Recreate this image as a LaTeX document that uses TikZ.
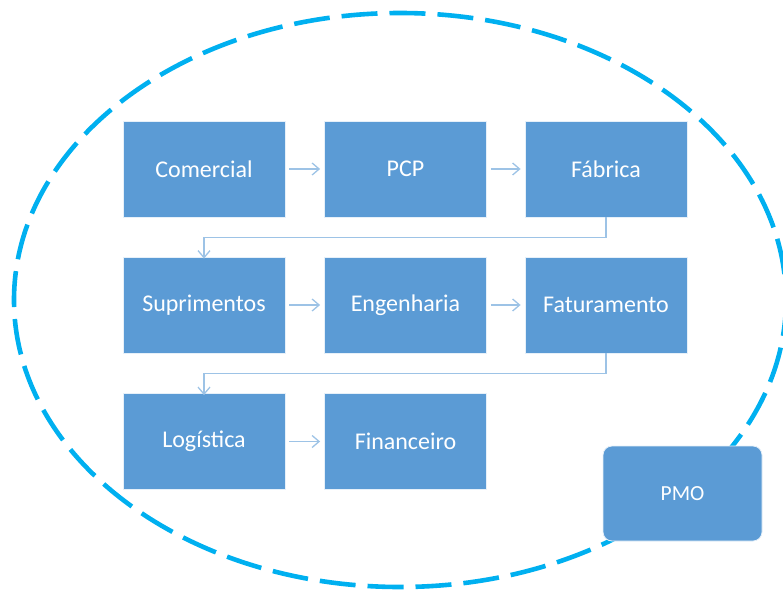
\documentclass[tikz,border=0pt]{standalone}
\usepackage{fontspec}
\setmainfont{Carlito}
\usetikzlibrary{arrows.meta}
\definecolor{boxblue}{HTML}{5B9BD5}
\definecolor{linkblue}{HTML}{9DC3E6}
\definecolor{ringcyan}{HTML}{00B0F0}
\tikzset{
  stage/.style={draw=white!85!boxblue, line width=0.8pt, fill=boxblue,
    minimum width=162pt, minimum height=96pt, inner sep=0pt,
    text=white, font=\fontsize{24}{28}\selectfont},
  office/.style={stage, rounded corners=9pt, minimum width=159pt, minimum height=95pt,
    font=\fontsize{21.5}{25}\selectfont},
  flow/.style={draw=linkblue, line width=1.3pt, -{Straight Barb[length=7pt,width=12pt,line width=1.3pt]}},
  ring/.style={draw=ringcyan, line width=4.6pt, dash pattern=on 36pt off 12pt}
}
\begin{document}
\begin{tikzpicture}[x=1pt,y=-1pt]
\useasboundingbox (0,0) rectangle (783,589);
% dashed boundary of the organisation
\draw[ring] (400,300) ellipse [x radius=386, y radius=287];
% process stages
\node[stage] (com) at (204,169) {Comercial};
\node[stage] (pcp) at (405.5,169) {PCP};
\node[stage] (fab) at (606,169) {Fábrica};
\node[stage] (sup) at (204,305) {Suprimentos};
\node[stage] (eng) at (405.5,305) {Engenharia};
\node[stage] (fat) at (606,305) {Faturamento};
\node[stage] (log) at (204,441.5) {Logística};
\node[stage] (fin) at (405.5,441.5) {Financeiro};
\node[office] (pmo) at (682.5,493.5) {PMO};
% horizontal hand-offs
\draw[flow] ([xshift=4pt]com.east) -- ([xshift=-4pt]pcp.west);
\draw[flow] ([xshift=4pt]pcp.east) -- ([xshift=-4pt]fab.west);
\draw[flow] ([xshift=4pt]sup.east) -- ([xshift=-4pt]eng.west);
\draw[flow] ([xshift=4pt]eng.east) -- ([xshift=-4pt]fat.west);
\draw[flow] ([xshift=4pt]log.east) -- ([xshift=-4pt]fin.west);
% row-to-row hand-offs
\draw[flow] (fab.south) -- ++(0,20) -| ([yshift=-2pt]sup.north);
\draw[flow] (fat.south) -- ++(0,20) -| ([yshift=-2pt]log.north);
\end{tikzpicture}
\end{document}
